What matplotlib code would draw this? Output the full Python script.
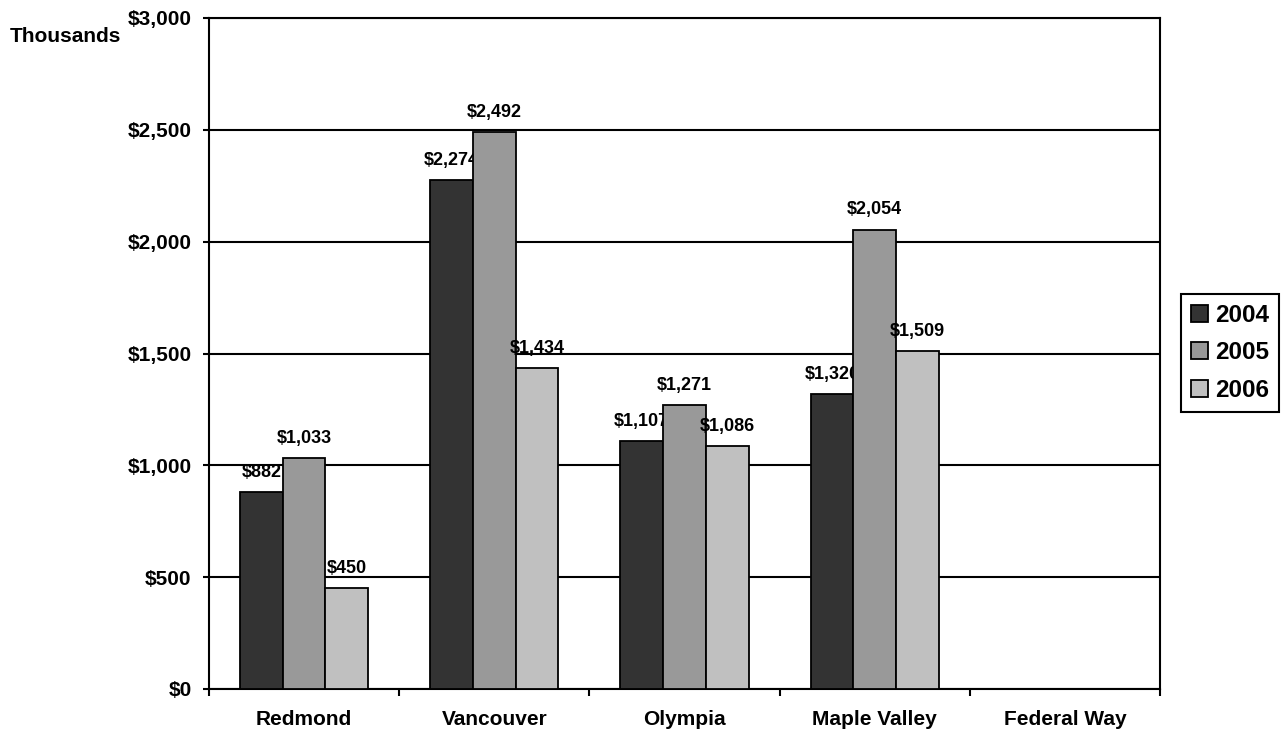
import numpy as np
import matplotlib.pyplot as plt
from matplotlib.ticker import FuncFormatter, FixedLocator

plt.rcParams['font.family'] = ['Liberation Sans', 'DejaVu Sans']
plt.rcParams['font.weight'] = 'bold'

# ---- data ----
cities = ['Redmond', 'Vancouver', 'Olympia', 'Maple Valley', 'Federal Way']
years = ['2004', '2005', '2006']
v2004 = [882, 2274, 1107, 1320, np.nan]
v2005 = [1033, 2492, 1271, 2054, np.nan]
v2006 = [450, 1434, 1086, 1509, np.nan]
colors = ['#333333', '#999999', '#c0c0c0']

series = [v2004, v2005, v2006]

fig = plt.figure(figsize=(12.84, 7.36), dpi=100)
ax = fig.add_axes([209/1284, 1-689/736, (1160-209)/1284, (689-18)/736])

x = np.arange(len(cities))
w = 0.225
for i, vals in enumerate(series):
    pos = x + (i-1)*w
    bars = ax.bar(pos, vals, w, color=colors[i], edgecolor='black',
                  linewidth=1.3, label=years[i], zorder=3+2*i)
    for xp, v in zip(pos, vals):
        if np.isnan(v):
            continue
        ax.annotate('${:,.0f}'.format(v), (xp, v), xytext=(0, 8),
                    textcoords='offset points', ha='center', va='bottom',
                    fontsize=13, fontweight='bold', zorder=4+2*i)

ax.set_xlim(-0.5, len(cities)-0.5)
ax.set_ylim(0, 3000)
ax.set_yticks(np.arange(0, 3001, 500))
ax.yaxis.set_major_formatter(FuncFormatter(lambda v, p: '${:,.0f}'.format(v)))
ax.grid(axis='y', color='black', linewidth=1.5)
ax.set_axisbelow(True)

ax.xaxis.set_major_locator(FixedLocator(np.arange(-0.5, len(cities), 1)))
ax.xaxis.set_major_formatter(FuncFormatter(lambda v, p: ''))
ax.xaxis.set_minor_locator(FixedLocator(x))
ax.set_xticklabels(cities, minor=True)
ax.tick_params(axis='x', which='minor', length=0, pad=15, labelsize=15)
ax.tick_params(axis='x', which='major', length=5, width=1.5)
ax.tick_params(axis='y', length=4.5, width=1.5, pad=8, labelsize=15)
for lab in ax.get_xticklabels(minor=True) + ax.get_yticklabels():
    lab.set_fontweight('bold')

for s in ax.spines.values():
    s.set_linewidth(1.5)

fig.text(10/1284, 1-36/736, 'Thousands', fontsize=15, fontweight='bold',
         ha='left', va='center')

leg = ax.legend(loc='upper left', bbox_to_anchor=(1181/1284, 1-294/736),
                bbox_transform=fig.transFigure, borderaxespad=0,
                fancybox=False, edgecolor='black', framealpha=1,
                prop={'size': 17.5, 'weight': 'bold'},
                handlelength=0.7, handleheight=0.7, handletextpad=0.3,
                labelspacing=0.6, borderpad=0.4)
leg.get_frame().set_linewidth(1.5)

fig.savefig('out.png', dpi=100)
